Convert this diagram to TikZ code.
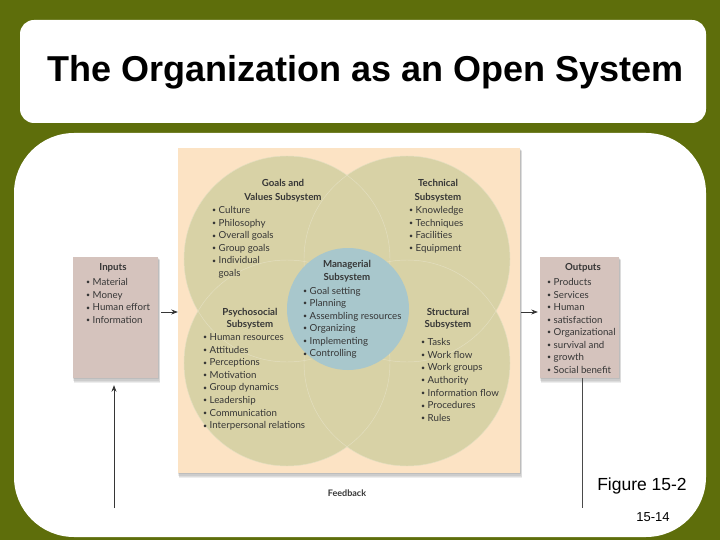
\documentclass[tikz,border=0pt]{standalone}
\usepackage{fontspec}
\usepackage{graphicx}
\setmainfont{Liberation Sans}
\newfontfamily\gill{Lato}
\usetikzlibrary{arrows.meta}
\definecolor{olivebg}{HTML}{5E6E0B}
\definecolor{creamc}{HTML}{FCE3C4}
\definecolor{tanc}{HTML}{D8D2A6}
\definecolor{bluec}{HTML}{A8C7CC}
\definecolor{boxc}{HTML}{D5C3BD}
\definecolor{txtc}{HTML}{363636}
\newcommand{\bul}{\raisebox{0.7pt}{\scalebox{0.72}{\textbullet}}\ }
\tikzset{
  item/.style={anchor=base west, inner sep=0pt, text=txtc, font=\gill\fontsize{9.7}{11}\selectfont},
  head/.style={anchor=base, inner sep=0pt, text=txtc, font=\gill\bfseries\fontsize{9.7}{11}\selectfont},
  circ/.style={circle, fill=tanc, minimum size=206pt, inner sep=0pt},
  circline/.style={draw=white!30!tanc, line width=0.45pt},
  sbox/.style={rectangle, fill=boxc, inner sep=0pt},
  arr/.style={draw=txtc, line width=0.7pt, -{Stealth[length=6.5pt,width=5pt]}},
  fline/.style={draw=txtc!90, line width=0.7pt},
}
\newcommand{\softshadow}[4]{%
  \foreach \k in {1,...,4}{\fill[black, opacity=0.07] ({#1-1+0.6*\k},{#2+0.8*\k}) rectangle ({#3+0.6*\k},{#4+1.3*\k});}}
\begin{document}
\begin{tikzpicture}[x=1pt,y=-1pt]
\useasboundingbox (0,0) rectangle (720,540);
\fill[olivebg] (0,0) rectangle (720,540);
% title box and panel
\node[fill=white, rounded corners=14pt, minimum width=686pt, minimum height=103pt, inner sep=0pt] (tbox) at (363,71.5) {};
\node[anchor=base, inner sep=0pt, font=\bfseries\fontsize{36}{40}\selectfont] (ttl) at (365.5,82) {The Organization as an Open System};
\node[fill=white, rounded corners=60pt, minimum width=692pt, minimum height=404pt, inner sep=0pt] (panel) at (360,335) {};
% shadows
\softshadow{178}{148}{520}{473}
\softshadow{73}{257}{158}{378}
\softshadow{540}{257}{619}{378}
% cream panel
\node[rectangle, fill=creamc, minimum width=342pt, minimum height=325pt, inner sep=0pt] (cream) at (349,310.5) {};
% circles
\node[circ] (gvC) at (287,259) {};
\node[circ] (tcC) at (407,259) {};
\node[circ] (psC) at (287,363) {};
\node[circ] (stC) at (407,363) {};
\draw[circline] (gvC.center) circle (103);
\draw[circline] (tcC.center) circle (103);
\draw[circline] (psC.center) circle (103);
\draw[circline] (stC.center) circle (103);
\node[circle, fill=bluec, minimum size=122pt, inner sep=0pt] (mgC) at (348,309) {};
% headings
\node[head] (gvH1) at (283,186.5) {Goals and};
\node[head] (gvH2) at (283,200.5) {Values Subsystem};
\node[head] (tcH1) at (438,186.5) {Technical};
\node[head] (tcH2) at (438,200.5) {Subsystem};
\node[head] (mgH1) at (347,267.5) {Managerial};
\node[head] (mgH2) at (347,280.5) {Subsystem};
\node[head] (psH1) at (250,315.5) {Psychosocial};
\node[head] (psH2) at (250,327.5) {Subsystem};
\node[head] (stH1) at (448,315.5) {Structural};
\node[head] (stH2) at (448,327.5) {Subsystem};
% lists
\foreach \t [count=\i from 0] in {Culture,Philosophy,Overall goals,Group goals,Individual}
  \node[item] (gv\i) at (212,{213.5+12.6*\i}) {\bul\t};
\node[item] (gv5) at (212,276.5) {\phantom{\bul}goals};
\foreach \t [count=\i from 0] in {Knowledge,Techniques,Facilities,Equipment}
  \node[item] (tc\i) at (409,{213.5+12.6*\i}) {\bul\t};
\foreach \t [count=\i from 0] in {Goal setting,Planning,Assembling resources,Organizing,Implementing,Controlling}
  \node[item] (mg\i) at (303,{294+12.55*\i}) {\bul\t};
\foreach \t [count=\i from 0] in {Human resources,Attitudes,Perceptions,Motivation,Group dynamics,Leadership,Communication,Interpersonal relations}
  \node[item] (ps\i) at (203,{340.5+12.6*\i}) {\bul\t};
\foreach \t [count=\i from 0] in {Tasks,Work flow,Work groups,Authority,Information flow,Procedures,Rules}
  \node[item] (st\i) at (421,{345.5+12.65*\i}) {\bul\t};
% input / output boxes
\node[sbox, minimum width=85pt, minimum height=121pt] (inp) at (115.5,317.5) {};
\node[sbox, minimum width=79pt, minimum height=121pt] (outp) at (579.5,317.5) {};
\node[head] (inH) at (113,270.5) {Inputs};
\node[head] (outH) at (583,270.5) {Outputs};
\foreach \t [count=\i from 0] in {Material,Money,Human effort,Information}
  \node[item] (in\i) at (86,{285.5+12.6*\i}) {\bul\t};
\foreach \t [count=\i from 0] in {Products,Services,Human,satisfaction,Organizational,survival and,growth,Social benefit}
  \node[item] (out\i) at (547,{285.5+12.5*\i}) {\bul\t};
% connectors
\coordinate (inA) at (161,312);
\draw[arr] (inA) -- (inA -| cream.west);
\coordinate (outA) at (520.5,312);
\draw[arr, shorten >=2pt] (outA) -- (outA -| outp.west);
\coordinate (fbR) at (582,508);
\draw[fline] (fbR |- outp.south) -- (fbR);
\coordinate (fbL) at (114,508);
\draw[arr, shorten >=7pt] (fbL) -- (fbL |- inp.south);
\node[head, font=\gill\bfseries\fontsize{9}{10}\selectfont] (fb) at (347,496.5) {Feedback};
% figure labels
\node[anchor=base, inner sep=0pt, font=\fontsize{17.5}{20}\selectfont] (fig) at (642,490.5) {Figure 15-2};
\node[anchor=base, inner sep=0pt, font=\fontsize{13}{15}\selectfont] (pg) at (653,521) {15-14};
\end{tikzpicture}
\end{document}
